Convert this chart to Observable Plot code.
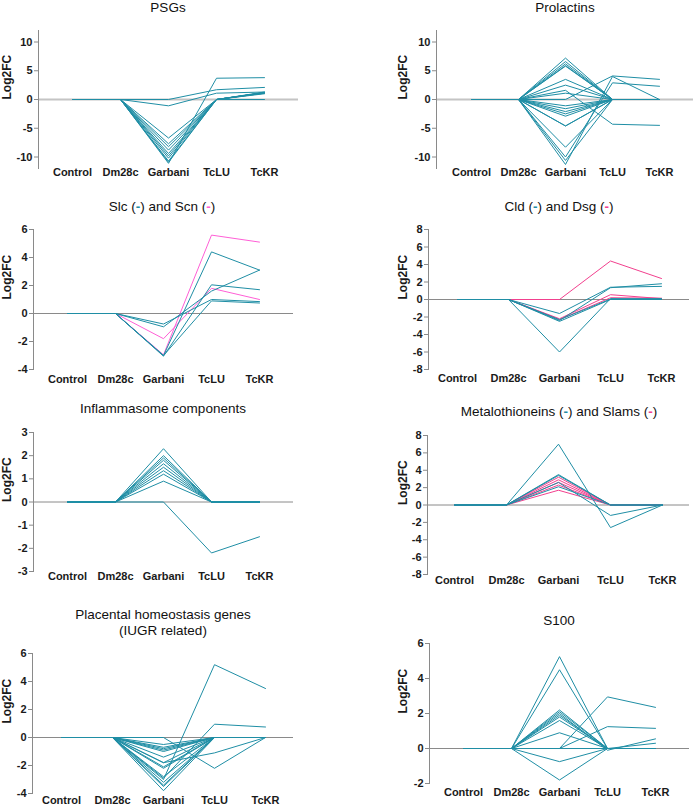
<!DOCTYPE html>
<html>
<head>
<meta charset="utf-8">
<script src="https://cdn.jsdelivr.net/npm/d3@7"></script>
<script src="https://cdn.jsdelivr.net/npm/@observablehq/plot@0.6"></script>
<style>
  body { margin: 0; background: #fff; }
  #root { position: relative; width: 696px; height: 809px; background: #fff; font-family: "Liberation Sans", Arial, sans-serif; overflow: hidden; }
  .panel { position: absolute; }
  .panel svg text { font-weight: bold; }
  .title { position: absolute; transform: translateX(-50%); font-size: 13.5px; line-height: 16px; color: #111; white-space: nowrap; text-align: center; }
  .dash { font-weight: bold; }
</style>
</head>
<body>
<div id="root"></div>
<script>
// ---------- data ----------
const categories = ["Control", "Dm28c", "Garbani", "TcLU", "TcKR"];

const psgs = [
  [0, 0, 0, 1.7, 2.1],
  [0, 0, -1.1, 1.1, 1.3],
  [0, 0, -6.7, 0, 1.2],
  [0, 0, -7.7, 0, 1.1],
  [0, 0, -8.2, 0, 1.0],
  [0, 0, -8.8, 0, 1.2],
  [0, 0, -9.4, 0, 1.3],
  [0, 0, -9.8, 0, 1.1],
  [0, 0, -10.2, 0, 1.2],
  [0, 0, -10.7, 0, 1.2],
  [0, 0, -10.9, 0, 0],
  [0, 0, -11.1, 3.7, 3.8]
];

const prolactins = [
  [0, 0, 7.2, 0, 0],
  [0, 0, 6.6, 0, 0],
  [0, 0, 6.2, 0, 0],
  [0, 0, 5.9, 0, 0],
  [0, 0, 5.8, 0, 0],
  [0, 0, 3.5, 0, 0],
  [0, 0, 2.5, 0, 0],
  [0, 0, 1.6, -4.3, -4.5],
  [0, 0, 1.1, 0, 0],
  [0, 0, 0, 4.1, 3.5],
  [0, 0, -1.1, 0, 0],
  [0, 0, -1.6, 0, 0],
  [0, 0, -2.1, 0, 0],
  [0, 0, -2.5, 0, 0],
  [0, 0, -2.9, 0, 0],
  [0, 0, -4.6, 0, 0],
  [0, 0, -4.6, 0, 0],
  [0, 0, -8.3, 0, 0],
  [0, 0, -10.0, 2.9, 2.3],
  [0, 0, -10.6, 0, 0],
  [0, 0, -11.3, 4.0, 0]
];

const slc = [
  [0, 0, -3.0, 4.4, 3.1],
  [0, 0, -0.95, 1.6, 3.1],
  [0, 0, -3.05, 2.05, 1.7],
  [0, 0, -0.75, 1.0, 0.85],
  [0, 0, -3.0, 0.9, 0.75]
];
const scn = [
  [0, 0, -1.8, 1.8, 1.0],
  [0, 0, -2.95, 5.6, 5.1]
];

const cld = [
  [0, 0, -1.6, 1.4, 1.5],
  [0, 0, -2.4, 1.35, 1.8],
  [0, 0, -2.5, 0, 0],
  [0, 0, -6.0, 0.1, 0.05],
  [0, 0, -2.3, 0.05, 0.1]
];
const dsg = [
  [0, 0, 0, 4.4, 2.4],
  [0, 0, -2.2, 0.55, 0.1],
  [0, 0, -2.3, 0.2, 0.15]
];

const inflammasome = [
  [0, 0, 2.3, 0, 0],
  [0, 0, 2.0, 0, 0],
  [0, 0, 1.9, 0, 0],
  [0, 0, 1.8, 0, 0],
  [0, 0, 1.65, 0, 0],
  [0, 0, 1.5, 0, 0],
  [0, 0, 1.35, 0, 0],
  [0, 0, 1.2, 0, 0],
  [0, 0, 0.9, 0, 0],
  [0, 0, 0, -2.2, -1.5]
];

const metalothioneins = [
  [0, 0, 7.0, -2.6, 0],
  [0, 0, 3.5, 0, 0],
  [0, 0, 3.4, 0, 0],
  [0, 0, 2.6, -1.2, 0],
  [0, 0, 2.1, 0, 0]
];
const slams = [
  [0, 0, 3.2, 0, 0],
  [0, 0, 2.9, 0, 0],
  [0, 0, 2.6, 0, 0],
  [0, 0, 2.3, 0, 0],
  [0, 0, 1.7, 0, 0]
];

const placental = [
  [0, 0, -3.0, 5.2, 3.5],
  [0, 0, 0, -2.2, 0],
  [0, 0, -1.8, -1.1, 0],
  [0, 0, -2.9, 0.95, 0.75],
  [0, 0, -0.5, 0, 0],
  [0, 0, -0.7, 0, 0],
  [0, 0, -0.8, 0, 0],
  [0, 0, -0.9, 0, 0],
  [0, 0, -1.0, 0, 0],
  [0, 0, -1.4, 0, 0],
  [0, 0, -1.8, 0, 0],
  [0, 0, -2.1, 0, 0],
  [0, 0, -2.2, 0, 0],
  [0, 0, -2.8, 0, 0],
  [0, 0, -3.2, 0, 0],
  [0, 0, -3.4, 0, 0],
  [0, 0, -3.5, 0, 0],
  [0, 0, -3.8, 0, 0]
];

const s100 = [
  [0, 0, 0, 2.95, 2.35],
  [0, 0, 0, 1.25, 1.15],
  [0, 0, 5.25, 0, 0],
  [0, 0, 4.5, 0, 0],
  [0, 0, 2.2, 0, 0],
  [0, 0, 2.1, 0, 0],
  [0, 0, 2.0, -0.1, 0.55],
  [0, 0, 1.9, 0, 0],
  [0, 0, 1.8, 0, 0.3],
  [0, 0, 1.6, 0, 0],
  [0, 0, 0.9, 0, 0],
  [0, 0, -0.75, 0, 0],
  [0, 0, -1.8, 0, 0],
  [0, 0, 0, 0, 0]
];

// ---------- drawing ----------
const TEAL = "#1f8ea5";
const PINK1 = "#ff5fd6";
const PINK2 = "#f2408e";

const root = document.getElementById("root");

function rows(sets) {
  const out = [];
  sets.forEach(({ data, color }, si) => {
    data.forEach((vals, gi) => {
      vals.forEach((v, i) => out.push({ g: `${si}-${gi}`, x: categories[i], y: v, c: color }));
    });
  });
  return out;
}

function panel(cfg) {
  const W = 348;
  const data = rows(cfg.sets);
  const chart = Plot.plot({
    width: W,
    height: cfg.h,
    marginLeft: cfg.mL,
    marginRight: cfg.mR,
    marginTop: cfg.mT,
    marginBottom: cfg.mB,
    style: { fontSize: "11px", fontFamily: "'Liberation Sans', Arial, sans-serif", color: "#1a1a1a", background: "transparent", overflow: "visible" },
    x: { type: "point", domain: categories, padding: cfg.pad },
    y: { domain: cfg.yDomain },
    color: { type: "identity" },
    marks: [
      Plot.ruleY([0], { stroke: cfg.zeroColor, strokeWidth: cfg.zeroWidth }),
      Plot.frame({ anchor: "left", stroke: "#8a8a8a" }),
      Plot.axisY({ ticks: cfg.yTicks, tickSize: 4, tickPadding: 2, tickFormat: d => String(d), label: null, stroke: "#8a8a8a" }),
      Plot.axisX({ tickSize: 0, tickPadding: cfg.xPad, label: null }),
      Plot.line(data, { x: "x", y: "y", z: "g", stroke: "c", strokeWidth: 1 }),
      Plot.text(["Log2FC"], { frameAnchor: "left", rotate: -90, dx: cfg.labelDx, fontSize: 12, fontWeight: "bold" })
    ]
  });
  const wrap = document.createElement("div");
  wrap.className = "panel";
  wrap.style.left = cfg.left + "px";
  wrap.style.top = cfg.top + "px";
  wrap.appendChild(chart);
  root.appendChild(wrap);

  const t = document.createElement("div");
  t.className = "title";
  t.style.left = (cfg.left + cfg.titleX) + "px";
  t.style.top = (cfg.top + cfg.titleY) + "px";
  t.innerHTML = cfg.title;
  root.appendChild(t);
}

const dash = c => `(<span class="dash" style="color:${c}">-</span>)`;

panel({ left: 0, top: 0, h: 200, mL: 38, mR: 50, mT: 30, mB: 32, pad: 0.69, yDomain: [-12, 12], yTicks: [-10, -5, 0, 5, 10],
  zeroColor: "#c4c4c4", zeroWidth: 2, xPad: 0, labelDx: -31,
  title: "PSGs", titleX: 168, titleY: 0, sets: [{ data: psgs, color: TEAL }] });

panel({ left: 348, top: 0, h: 200, mL: 88, mR: 3, mT: 30, mB: 32, pad: 0.69, yDomain: [-12, 12], yTicks: [-10, -5, 0, 5, 10],
  zeroColor: "#c4c4c4", zeroWidth: 2, xPad: 0, labelDx: -33,
  title: "Prolactins", titleX: 217, titleY: 0, sets: [{ data: prolactins, color: TEAL }] });

panel({ left: 0, top: 200, h: 200, mL: 33, mR: 55, mT: 29, mB: 31, pad: 0.67, yDomain: [-4, 6], yTicks: [-4, -2, 0, 2, 4, 6],
  zeroColor: "#8a8a8a", zeroWidth: 1, xPad: 6, labelDx: -26,
  title: `Slc ${dash(TEAL)} and Scn ${dash(PINK1)}`, titleX: 162, titleY: -1,
  sets: [{ data: scn, color: PINK1 }, { data: slc, color: TEAL }] });

panel({ left: 348, top: 200, h: 200, mL: 80, mR: 7, mT: 29, mB: 31, pad: 0.51, yDomain: [-8, 8], yTicks: [-8, -6, -4, -2, 0, 2, 4, 6, 8],
  zeroColor: "#8a8a8a", zeroWidth: 1, xPad: 5, labelDx: -25,
  title: `Cld ${dash(TEAL)} and Dsg ${dash(PINK2)}`, titleX: 211, titleY: -1,
  sets: [{ data: dsg, color: PINK2 }, { data: cld, color: TEAL }] });

panel({ left: 0, top: 400, h: 200, mL: 33, mR: 55, mT: 32, mB: 29, pad: 0.67, yDomain: [-3, 3], yTicks: [-3, -2, -1, 0, 1, 2, 3],
  zeroColor: "#8a8a8a", zeroWidth: 1, xPad: 1, labelDx: -26,
  title: "Inflammasome components", titleX: 163, titleY: 1, sets: [{ data: inflammasome, color: TEAL }] });

panel({ left: 348, top: 400, h: 200, mL: 79, mR: 7, mT: 35, mB: 26, pad: 0.51, yDomain: [-8, 8], yTicks: [-8, -6, -4, -2, 0, 2, 4, 6, 8],
  zeroColor: "#8a8a8a", zeroWidth: 1, xPad: 2, labelDx: -24,
  title: `Metalothioneins ${dash(TEAL)} and Slams ${dash(PINK2)}`, titleX: 211, titleY: 4,
  sets: [{ data: slams, color: PINK2 }, { data: metalothioneins, color: TEAL }] });

panel({ left: 0, top: 600, h: 209, mL: 32, mR: 55, mT: 53, mB: 16, pad: 0.53, yDomain: [-4, 6], yTicks: [-4, -2, 0, 2, 4, 6],
  zeroColor: "#8a8a8a", zeroWidth: 1, xPad: 3, labelDx: -25,
  title: "Placental homeostasis genes<br>(IUGR related)", titleX: 163, titleY: 7, sets: [{ data: placental, color: TEAL }] });

panel({ left: 348, top: 600, h: 209, mL: 81, mR: 7, mT: 43, mB: 26, pad: 0.69, yDomain: [-2, 6], yTicks: [-2, 0, 2, 4, 6],
  zeroColor: "#8a8a8a", zeroWidth: 1, xPad: 5, labelDx: -26,
  title: "S100", titleX: 211, titleY: 13, sets: [{ data: s100, color: TEAL }] });
</script>
</body>
</html>
